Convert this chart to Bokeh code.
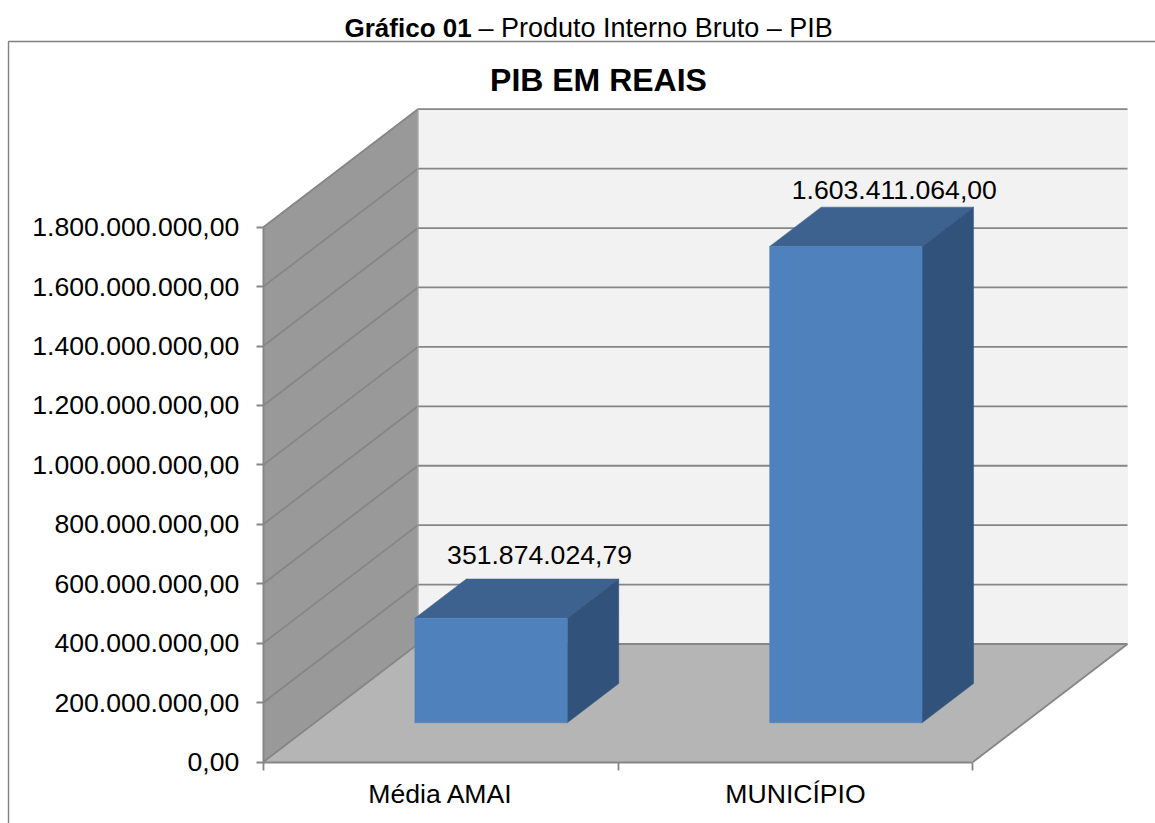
from bokeh.embed import file_html
from bokeh.resources import INLINE
from bokeh.plotting import figure
from bokeh.models import Range1d, LinearAxis, FixedTicker, Label
from bokeh.core.properties import value

# ---- data ----
categories = ["Média AMAI", "MUNICÍPIO"]
pib_values = [351874024.79, 1603411064.00]
value_labels = ["351.874.024,79", "1.603.411.064,00"]
tick_values = [0, 200e6, 400e6, 600e6, 800e6, 1000e6, 1200e6, 1400e6, 1600e6, 1800e6]
tick_labels = ["0,00", "200.000.000,00", "400.000.000,00", "600.000.000,00", "800.000.000,00",
               "1.000.000.000,00", "1.200.000.000,00", "1.400.000.000,00", "1.600.000.000,00",
               "1.800.000.000,00"]
caption_bold = "Gráfico 01"
caption_rest = "– Produto Interno Bruto – PIB"
chart_title = "PIB EM REAIS"

# ---- page geometry (pixels in the window) ----
W, H = 1155, 823
OFF = 0
X0, PX_PER_CAT = 262.8, 354.8
Y0, PX_PER_MAX = 761.5, 534.8
YMAX = max(tick_values)
K = YMAX / PX_PER_MAX
DEPTH_X = 154.6 / PX_PER_CAT
DEPTH_Y = 118.0 * K
BAR_D0, BAR_D1 = 0.332, 0.665
BAR_LEFT = 0.2825
BAR_W = 0.4295
NCAT = len(categories)

def dx(px):
    return (px - X0) / PX_PER_CAT

def dy(py):
    return (Y0 - py) * K

FONT = "Liberation Sans"
GRID = "#868686"
TEXT_SIZE = "26.6px"

p = figure(width=W, height=H, output_backend="svg", toolbar_location=None,
           x_range=Range1d(dx(OFF), dx(OFF + W)), y_range=Range1d(dy(OFF + H), dy(OFF)),
           x_axis_type=None, y_axis_type=None, min_border=0,
           outline_line_color=None, background_fill_color="white", border_fill_color="white")
p.grid.visible = False

# walls and floor
p.patch([0, DEPTH_X, DEPTH_X + NCAT, NCAT], [0, DEPTH_Y, DEPTH_Y, 0],
        fill_color="#b5b5b5", line_color="#b5b5b5", line_width=1)
p.patch([DEPTH_X, DEPTH_X + NCAT, DEPTH_X + NCAT, DEPTH_X],
        [DEPTH_Y, DEPTH_Y, DEPTH_Y + YMAX, DEPTH_Y + YMAX],
        fill_color="#f2f2f2", line_color="#f2f2f2", line_width=1)
p.patch([0, DEPTH_X, DEPTH_X, 0], [0, DEPTH_Y, DEPTH_Y + YMAX, YMAX],
        fill_color="#999999", line_color="#999999", line_width=1)

# gridlines: front of side wall -> back corner -> right of back wall
p.multi_line([[0, DEPTH_X, DEPTH_X + NCAT] for _ in tick_values],
             [[v, v + DEPTH_Y, v + DEPTH_Y] for v in tick_values],
             line_color=GRID, line_width=1.8)
p.line([NCAT, NCAT + DEPTH_X], [0, DEPTH_Y], line_color=GRID, line_width=1.8)
p.line([DEPTH_X, DEPTH_X], [DEPTH_Y, DEPTH_Y + YMAX], line_color="#a6a6a6", line_width=1)

# bars
for i, v in enumerate(pib_values):
    x0 = i + BAR_LEFT + BAR_D0 * DEPTH_X
    x1 = x0 + BAR_W
    y0 = BAR_D0 * DEPTH_Y
    y1 = y0 + v
    ox = (BAR_D1 - BAR_D0) * DEPTH_X
    oy = (BAR_D1 - BAR_D0) * DEPTH_Y
    p.patch([x0, x1, x1 + ox, x0 + ox], [y1, y1, y1 + oy, y1 + oy],
            fill_color="#3d628f", line_color="#3d628f", line_width=0.5)
    p.patch([x1, x1 + ox, x1 + ox, x1], [y0, y0 + oy, y1 + oy, y1],
            fill_color="#31527a", line_color="#31527a", line_width=0.5)
    p.quad(left=x0, right=x1, bottom=y0, top=y1,
           fill_color="#4f81bd", line_color="#4f81bd", line_width=0.5)
    p.text([x0 + BAR_W / 2 + ox], [y1 + oy], text=[value_labels[i]],
           text_font=value(FONT), text_font_size=TEXT_SIZE, text_color="#000000",
           text_align="center", text_baseline="middle", y_offset=-24 + (i * 7), x_offset=-3)

# axes
yaxis = LinearAxis(ticker=FixedTicker(ticks=tick_values), bounds=(0, YMAX),
                   major_label_overrides={v: t for v, t in zip(tick_values, tick_labels)},
                   axis_line_color=GRID, axis_line_width=1.8,
                   major_tick_line_color=GRID, major_tick_line_width=1.8,
                   major_tick_out=7, major_tick_in=0, minor_tick_line_color=None,
                   major_label_standoff=17, major_label_text_font=FONT,
                   major_label_text_font_size=TEXT_SIZE, major_label_text_color="#000000")
yaxis.fixed_location = 0
p.add_layout(yaxis, "left")

xticks = LinearAxis(ticker=FixedTicker(ticks=list(range(NCAT + 1))), bounds=(0, NCAT),
                    major_label_overrides={i: "" for i in range(NCAT + 1)},
                    axis_line_color=GRID, axis_line_width=1.8,
                    major_tick_line_color=GRID, major_tick_line_width=1.8,
                    major_tick_out=8, major_tick_in=0, minor_tick_line_color=None)
xticks.fixed_location = 0
p.add_layout(xticks, "below")

xpos = [i + 0.5 for i in range(NCAT)]
xlabels = LinearAxis(ticker=FixedTicker(ticks=xpos),
                     major_label_overrides={v: c for v, c in zip(xpos, categories)},
                     axis_line_color=None, major_tick_line_color=None, minor_tick_line_color=None,
                     major_tick_out=0, major_tick_in=0, major_label_standoff=17,
                     major_label_text_font=FONT, major_label_text_font_size=TEXT_SIZE,
                     major_label_text_color="#000000")
xlabels.fixed_location = 0
p.add_layout(xlabels, "below")

# chart frame line (left and top), from the corner of the frame
p.line([dx(8), dx(8), dx(OFF + W)], [dy(OFF + H), dy(41), dy(41)],
       line_color="#808080", line_width=1.4)

# texts
p.add_layout(Label(x=dx(344), y=dy(27), text=caption_bold, text_font=FONT, text_font_style="bold",
                   text_font_size="26px", text_color="#000000", text_baseline="middle"))
p.add_layout(Label(x=dx(478), y=dy(27), text=caption_rest, text_font=FONT,
                   text_font_size="27px", text_color="#000000", text_baseline="middle"))
p.add_layout(Label(x=dx(598), y=dy(79), text=chart_title, text_font=FONT, text_font_style="bold",
                   text_font_size="32px", text_color="#000000", text_baseline="middle",
                   text_align="center"))

open("out.html", "w").write(file_html(p, INLINE))
